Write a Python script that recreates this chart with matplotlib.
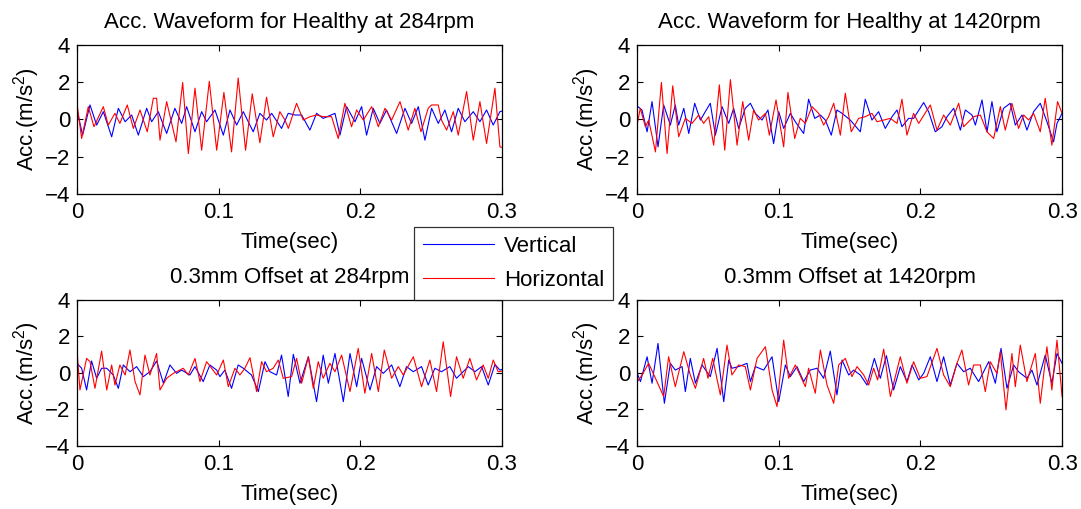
import numpy as np
import matplotlib
matplotlib.use('Agg')
import matplotlib.pyplot as plt

plt.rcParams['font.family'] = ['Liberation Sans', 'DejaVu Sans']
plt.rcParams['mathtext.default'] = 'regular'

# (time in ms, acceleration in m/s^2)
healthy_284_vert = [
    (0, 0.51), (4.0, -0.84), (9.2, 0.78), (13.9, -0.30), (18.6, 0.42), (24.5, -0.93),
    (29.2, 0.60), (34.0, -0.12), (38.6, 0.24), (43.3, -0.84), (49.2, 0.60), (52.7, -0.12),
    (57.4, 0.42), (63.3, -0.75), (69.1, 0.60), (73.9, -0.21), (77.4, 0.69), (83.3, -0.66),
    (88.0, 0.42), (91.5, -0.12), (97.4, 0.51), (103.3, -0.84), (108.0, 0.51), (112.7, -0.30),
    (117.4, 0.42), (124.4, -0.66), (129.1, 0.33), (133.8, -0.03), (137.4, 0.33), (144.4, -0.48),
    (149.1, 0.33), (153.9, 0.24), (158.6, 0.24), (164.4, -0.57), (169.1, 0.33), (173.8, 0.06),
    (182.1, 0.33), (185.6, -0.84), (190.3, 0.69), (196.2, -0.12), (200.9, 0.69), (204.4, -0.84),
    (209.1, 0.60), (213.8, -0.21), (218.5, 0.51), (225.6, -0.75), (231.5, 0.60), (236.2, -0.21),
    (240.9, 0.69), (245.6, -1.11), (250.3, 0.60), (255.0, -0.21), (259.7, 0.51), (264.4, -0.66),
    (269.1, 0.60), (273.8, -0.12), (279.7, 0.42), (284.4, -0.12), (289.1, 0.51), (293.8, -0.30),
    (298.5, 0.42), (300, 0.45)]
healthy_284_horz = [
    (0, 0.87), (3.3, -1.02), (8.0, 0.69), (12.0, -0.39), (18.6, 0.69), (22.1, -0.30),
    (26.8, 0.33), (30.3, -0.21), (35.5, 0.78), (39.8, -0.48), (44.5, 0.51), (49.6, -0.66),
    (53.9, 1.14), (56.2, 1.14), (58.6, -1.11), (63.3, 0.96), (69.9, -1.20), (74.6, 1.99),
    (78.6, -1.83), (83.3, 1.68), (88.0, -1.65), (93.4, 2.05), (98.6, -1.65), (103.7, 1.45),
    (109.1, -1.74), (113.8, 2.23), (119.0, -1.65), (123.7, 1.38), (129.1, -1.25), (133.8, 1.20),
    (138.5, -0.93), (143.2, 0.42), (146.8, -0.03), (149.2, -0.48), (155.0, 0.87), (159.7, -0.03),
    (164.4, 0.15), (169.1, 0.24), (173.8, 0.15), (179.7, 0.15), (184.4, -1.02), (189.1, 0.87),
    (193.8, -0.39), (197.4, 0.51), (202.1, -0.03), (208.0, 0.69), (212.7, -0.39), (217.4, 0.60),
    (222.1, -0.03), (228.0, 0.96), (233.8, -0.57), (238.5, 0.60), (242.8, -0.66), (247.9, 0.60),
    (250.3, 0.78), (255.0, 0.78), (257.3, -0.03), (260.9, -0.57), (265.6, 0.42), (269.1, -0.84),
    (275.0, 1.50), (279.7, -1.11), (284.4, 0.96), (289.1, -1.29), (295.0, 1.68), (298.5, -1.47),
    (300, -1.50)]

healthy_1420_vert = [
    (0, 0.73), (3.5, 0.51), (7.1, -0.66), (10.6, 0.96), (14.8, -1.47), (18.8, 0.78),
    (23.5, -0.30), (27.0, 0.78), (29.4, -0.30), (33.0, 0.60), (36.5, -0.75), (40.7, 0.87),
    (44.7, -0.03), (51.7, 0.87), (55.3, -0.84), (60.0, 0.69), (64.7, -0.21), (68.2, 0.60),
    (71.7, -0.48), (76.4, 0.60), (80.0, 0.87), (83.5, 0.33), (88.2, -0.03), (92.4, 0.51),
    (96.4, -1.29), (100.0, 0.42), (103.5, -0.48), (108.2, 0.33), (111.7, -0.12), (117.6, -0.75),
    (121.1, 1.09), (125.4, 0.06), (129.4, 0.24), (132.9, -0.03), (137.1, -0.84), (141.1, 0.51),
    (144.7, 0.33), (150.5, -0.03), (157.6, -0.66), (161.1, 1.09), (165.8, -0.03), (170.5, 0.42),
    (175.2, -0.48), (180.0, 0.15), (183.5, 0.51), (187.0, -0.39), (191.7, 0.06), (195.2, 0.06),
    (202.3, 0.91), (205.8, 0.42), (210.5, -0.66), (215.2, -0.39), (218.8, 0.15), (223.5, 0.60),
    (228.2, -0.57), (231.7, 0.51), (236.4, 0.24), (238.8, -0.30), (243.5, 1.05), (247.0, -0.66),
    (250.5, 0.96), (254.0, -0.66), (258.7, 0.60), (263.4, 0.87), (267.0, -0.30), (271.7, 0.24),
    (275.2, -0.57), (279.9, 0.42), (284.6, 0.87), (289.3, -0.12), (294.0, -1.20), (296.4, -0.21),
    (300, 0.33)]
healthy_1420_horz = [
    (0, -0.30), (2.3, 0.60), (5.9, -0.39), (8.2, -0.03), (13.0, -1.74), (17.2, 1.99),
    (21.2, -1.83), (25.2, 1.81), (29.4, -0.93), (34.1, 0.06), (38.8, -0.21), (43.5, 0.24),
    (47.0, -0.21), (50.6, 0.15), (54.1, -1.38), (58.1, 1.86), (61.9, -1.65), (65.9, 2.14),
    (70.6, -1.38), (74.6, 0.96), (78.8, -1.11), (82.3, 0.51), (85.8, -0.03), (90.6, 0.33),
    (93.4, -0.84), (98.1, 1.05), (103.5, -1.47), (106.5, 1.45), (111.3, -1.02), (115.2, 0.06),
    (118.8, -0.21), (123.5, 0.69), (128.2, 0.33), (131.7, -0.30), (135.2, 0.15), (138.8, 0.87),
    (143.5, -0.84), (147.0, 1.41), (151.2, -0.66), (156.4, 0.06), (161.1, 0.15), (165.8, 0.33),
    (169.4, -0.12), (174.1, -0.03), (178.8, 0.06), (183.5, -0.21), (187.0, 1.09), (190.5, -0.84),
    (195.2, 0.33), (198.8, -0.21), (207.0, 0.78), (211.7, -0.57), (216.4, 0.24), (221.1, -0.30),
    (227.0, 0.87), (230.5, -0.39), (234.0, -0.12), (237.6, 0.15), (242.3, 0.24), (247.0, -0.66),
    (251.7, -1.02), (256.4, 0.69), (259.9, -0.57), (264.6, 0.87), (269.3, -0.48), (272.9, 0.24),
    (276.4, -0.03), (279.9, 0.33), (284.6, -0.66), (288.1, 1.14), (292.8, -1.38), (296.8, 0.96),
    (300, 0.33)]

offset_284_vert = [
    (0, 0.53), (3.3, 0.26), (6.8, -0.93), (10.3, 0.66), (13.9, -0.29), (17.4, 0.26),
    (21.0, 0.26), (25.6, -0.11), (29.2, -0.84), (32.7, 0.44), (37.4, 0.07), (42.1, 0.35),
    (46.8, -0.20), (51.5, 0.07), (56.2, 0.66), (61.0, -0.56), (65.6, 0.44), (70.3, -0.02),
    (73.9, 0.16), (79.7, -0.11), (83.3, 0.35), (89.1, -0.47), (93.8, 0.44), (98.6, 0.16),
    (100.9, -0.20), (104.4, 0.16), (109.1, -0.84), (113.8, 0.44), (117.4, 0.26), (123.2, -0.11),
    (128.0, -1.02), (132.7, 0.62), (136.2, 0.07), (140.9, -0.11), (144.4, 0.98), (149.1, -1.29),
    (152.7, 1.02), (157.4, -0.56), (163.3, 0.89), (169.1, -1.57), (173.8, 0.98), (177.4, -0.56),
    (182.1, 1.07), (188.0, -1.57), (192.7, 1.07), (197.4, -0.75), (200.9, 0.80), (206.8, -0.93),
    (211.5, 0.35), (216.2, -0.02), (222.1, 0.44), (227.9, -0.75), (232.6, 0.35), (237.4, 0.07),
    (243.2, 0.35), (247.9, -0.66), (252.6, 0.26), (257.3, 0.07), (263.2, 0.35), (267.9, -0.29),
    (276.2, 0.35), (280.9, 0.07), (285.6, 0.35), (290.3, -0.66), (295.0, 0.47), (298.5, 0.16),
    (300, 0.20)]
offset_284_horz = [
    (0, 1.26), (2.1, -0.93), (6.8, 0.80), (9.2, 0.62), (12.7, -0.84), (17.4, 1.20),
    (21.0, -0.93), (24.5, 0.44), (26.8, -0.66), (30.3, 0.44), (34.0, -0.11), (37.4, 1.26),
    (41.0, -0.47), (44.5, -1.20), (48.0, 0.98), (51.5, -0.11), (56.2, 1.07), (58.6, -0.93),
    (63.3, -0.29), (68.0, -0.02), (75.0, 0.26), (78.6, -0.11), (83.3, 0.80), (86.8, -0.47),
    (91.5, 0.62), (95.0, 0.26), (98.6, -0.11), (103.3, 0.71), (106.8, -0.75), (111.5, 0.26),
    (115.0, -0.11), (118.5, 0.26), (122.1, 0.84), (126.8, -1.02), (130.3, 0.62), (133.8, 0.07),
    (138.5, 0.26), (142.1, 0.71), (145.6, -0.29), (151.5, -0.20), (155.0, 0.80), (158.6, -0.56),
    (163.3, 0.89), (166.8, -0.84), (170.3, 0.62), (173.8, -0.29), (178.5, 0.53), (182.1, 0.07),
    (186.8, 0.98), (192.7, -1.02), (198.5, 1.35), (203.2, -1.11), (208.0, 1.07), (212.7, -1.02),
    (216.9, 1.26), (222.1, -0.29), (226.8, 0.35), (230.3, -0.11), (237.4, 0.89), (243.2, -0.75),
    (249.1, 0.71), (253.8, -1.02), (258.5, 1.71), (263.7, -1.29), (267.9, 0.89), (272.6, -0.29),
    (277.3, 0.80), (282.0, -0.38), (286.7, 0.44), (290.3, -0.29), (293.8, 0.71), (297.3, 0.07),
    (300, 0.10)]

offset_1420_vert = [
    (0, 0.00), (2.4, -0.47), (7.1, 0.89), (10.6, -0.56), (14.8, 1.62), (19.3, -1.66),
    (23.5, 0.53), (27.0, 0.16), (31.8, 0.35), (34.1, -1.02), (37.6, 0.80), (41.2, -0.56),
    (45.9, 0.44), (51.7, -0.20), (56.5, 1.35), (61.2, -1.57), (64.7, 0.71), (67.0, 0.26),
    (71.7, 0.35), (77.6, 0.53), (80.0, -0.47), (83.5, 0.35), (89.4, 0.16), (95.3, 0.89),
    (100.0, -1.57), (104.7, 0.44), (108.2, -0.20), (112.9, 0.35), (117.6, -0.47), (122.3, 0.16),
    (127.0, 0.26), (131.7, -0.29), (136.4, 1.20), (141.1, -1.20), (144.7, 0.71), (149.4, -0.11),
    (152.9, 0.16), (157.6, -0.11), (162.3, -0.66), (167.5, 0.80), (171.7, -0.29), (176.0, 0.95),
    (181.1, -0.93), (185.8, 0.35), (190.5, -0.47), (194.1, 0.44), (198.8, -0.38), (202.3, -0.02),
    (207.0, 0.89), (211.7, -0.47), (216.4, 0.89), (221.1, -0.66), (225.8, 0.53), (230.5, 0.07),
    (235.2, 0.26), (241.1, -0.47), (248.2, 0.62), (252.9, -0.56), (256.9, 1.35), (261.1, -0.84),
    (265.8, 0.44), (269.3, 0.07), (275.2, -0.29), (278.7, 0.16), (282.3, -0.66), (288.1, 0.98),
    (292.8, -0.56), (296.4, 1.07), (300, 0.53)]
offset_1420_horz = [
    (0, -0.50), (3.5, -0.11), (8.2, 0.53), (13.0, -0.29), (18.8, -1.29), (22.3, 0.89),
    (27.0, -0.75), (33.0, 1.17), (37.6, -0.11), (41.2, -0.84), (47.0, 0.80), (50.1, -0.29),
    (53.4, 0.80), (58.8, -1.20), (63.5, 1.53), (67.0, -0.11), (71.7, 0.44), (76.4, 0.35),
    (80.0, -0.93), (84.7, 0.80), (90.6, 1.44), (95.3, -0.93), (98.8, -1.84), (103.5, 1.80),
    (107.0, -0.29), (111.7, 0.44), (118.8, -0.75), (121.1, 0.26), (125.8, -1.11), (129.4, 1.26),
    (134.1, -0.66), (138.8, -1.66), (142.3, 0.44), (147.0, 0.80), (151.7, -0.20), (155.3, 0.35),
    (160.0, -0.11), (163.5, -0.66), (167.0, 0.26), (169.8, -0.38), (174.1, 1.31), (178.8, -1.29),
    (185.8, 0.89), (190.5, -0.56), (195.2, 0.62), (199.9, -0.29), (204.6, -0.20), (211.7, 1.35),
    (216.4, -0.11), (221.1, -0.75), (225.8, 0.53), (229.3, 1.26), (234.0, -0.66), (237.6, 0.44),
    (242.3, 0.44), (245.8, -1.02), (249.3, 0.62), (254.0, -0.02), (256.4, 1.17), (260.4, -2.02),
    (264.6, 1.07), (267.0, -0.75), (270.5, 1.53), (275.2, -0.47), (281.1, 1.07), (284.6, -1.66),
    (289.3, 1.44), (292.8, -0.93), (296.4, 1.80), (300, -1.29)]

titles = ['Acc. Waveform for Healthy at 284rpm', 'Acc. Waveform for Healthy at 1420rpm',
          '0.3mm Offset at 284rpm', '0.3mm Offset at 1420rpm']
series = [(healthy_284_vert, healthy_284_horz), (healthy_1420_vert, healthy_1420_horz),
          (offset_284_vert, offset_284_horz), (offset_1420_vert, offset_1420_horz)]
x_ticks = [0, 0.1, 0.2, 0.3]
x_tick_labels = ['0', '0.1', '0.2', '0.3']
y_ticks = [-4, -2, 0, 2, 4]

fig = plt.figure(figsize=(10.81, 5.09), dpi=100)
rects = [[0.0712, 0.6189, 0.3932, 0.2927], [0.5893, 0.6189, 0.3932, 0.2927],
         [0.0712, 0.1238, 0.3932, 0.2868], [0.5893, 0.1238, 0.3932, 0.2868]]

fs = 16
for rect, title, (vert, horz) in zip(rects, titles, series):
    ax = fig.add_axes(rect)
    tv, av = np.array(vert).T
    th, ah = np.array(horz).T
    ax.plot(tv / 1000, av, color='#0000ff', lw=0.8, label='Vertical')
    ax.plot(th / 1000, ah, color='#ff0000', lw=0.8, label='Horizontal')
    ax.set_xlim(0, 0.3)
    ax.set_ylim(-4, 4)
    ax.set_xticks(x_ticks)
    ax.set_xticklabels(x_tick_labels)
    ax.set_yticks(y_ticks)
    ax.tick_params(direction='in', top=True, right=True, length=4, width=0.8,
                   labelsize=fs, pad=5)
    ax.tick_params(axis='x', pad=6)
    for sp in ax.spines.values():
        sp.set_linewidth(0.9)
    ax.set_title(title, fontsize=fs, pad=12)
    ax.set_xlabel('Time(sec)', fontsize=fs, labelpad=6)
    ax.set_ylabel('Acc.(m/s$^2$)', fontsize=fs, labelpad=2)

handles, labels = ax.get_legend_handles_labels()
leg = fig.legend(handles, labels, loc='upper left', bbox_to_anchor=(414 / 1081, 1 - 227 / 509),
                 fontsize=fs, frameon=True, fancybox=False, edgecolor='black',
                 handlelength=3.2, handletextpad=0.45, labelspacing=0.6,
                 borderpad=0.4, borderaxespad=0)
leg.get_frame().set_linewidth(0.9)

fig.savefig('out.png', dpi=100)
